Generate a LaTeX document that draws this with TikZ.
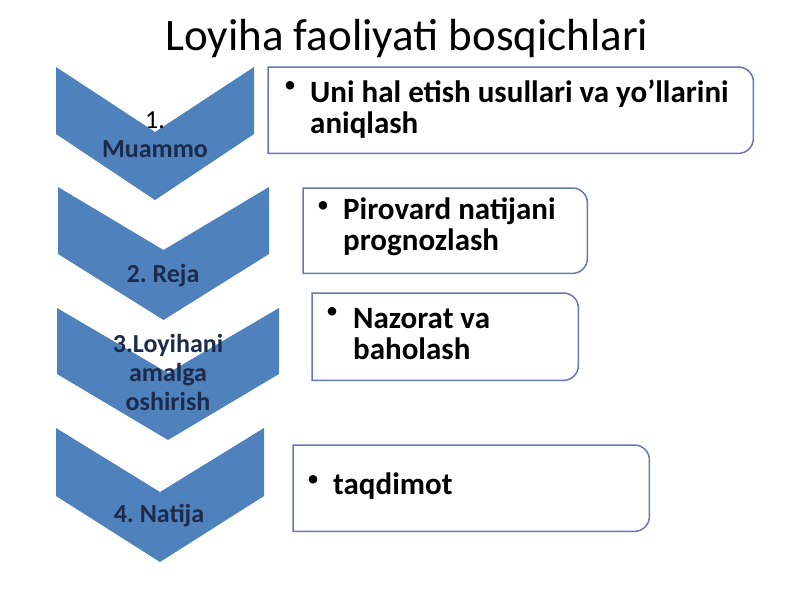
\documentclass[tikz,border=0pt]{standalone}
\usepackage{fontspec}
\setmainfont{Carlito}
\usepackage{tikz}
\usetikzlibrary{positioning}
\definecolor{ChevBlue}{HTML}{4F81BD}
\definecolor{ChevText}{HTML}{1C2B4B}
\definecolor{BoxLine}{HTML}{6A74B8}
\frenchspacing
\newcommand{\stageframe}[1]{\draw[frame] (#1.north west) -- ([xshift=-15pt]#1.north east) arc[start angle=90, end angle=0, radius=15pt] -- ([yshift=15pt]#1.south east) arc[start angle=0, end angle=-90, radius=15pt] -- (#1.south west) -- cycle;}

\begin{document}
\begin{tikzpicture}[x=1pt,y=-1pt]
\tikzset{chev/.style={fill=ChevBlue, draw=none}}
\tikzset{step label/.style={font=\fontsize{26}{29}\selectfont\bfseries, text=ChevText, align=center, inner sep=0pt}}
\tikzset{box text/.style={font=\fontsize{31}{31}\selectfont\bfseries, align=left, anchor=north west, inner sep=0pt}}
\tikzset{bul/.style={font=\fontsize{24}{24}\selectfont, inner sep=0pt}}
\tikzset{frame/.style={draw=BoxLine, line width=1.5pt}}
\tikzset{slot/.style={inner sep=0pt, anchor=north west}}
\useasboundingbox (0,0) rectangle (800,600);

\node[font=\fontsize{45}{50}\selectfont, anchor=base] (title) at (407,50) {Loyiha faoliyati bosqichlari};

% chevrons
\draw[chev] (56,67) -- (155,132) -- (254,67) -- (254,134) -- (155,200) -- (56,134) -- cycle;
\draw[chev] (58,187) -- (163.5,250) -- (269,187) -- (269,254) -- (163.5,320) -- (58,254) -- cycle;
\draw[chev] (57,308) -- (168,373) -- (279,308) -- (279,374) -- (168,440) -- (57,374) -- cycle;
\draw[chev] (56,428) -- (160,492) -- (264,428) -- (264,496) -- (160,562) -- (56,496) -- cycle;

\node[step label, anchor=north] (S1) at (155,112) {{\mdseries\color{black}1.}\\Muammo};
\node[step label, anchor=base] (S2) at (163,282) {2. Reja};
\node[step label, anchor=north] (S3) at (168,334) {3.Loyihani\\amalga\\oshirish};
\node[step label, anchor=base] (S4) at (159,522) {4. Natija};

% boxes
\node[slot, minimum width=485pt, minimum height=86pt] (B1) at (268,67) {};
\node[slot, minimum width=284pt, minimum height=85pt] (B2) at (303,188) {};
\node[slot, minimum width=266pt, minimum height=87pt] (B3) at (312,293) {};
\node[slot, minimum width=356pt, minimum height=86pt] (B4) at (293,445) {};
\stageframe{B1}
\stageframe{B2}
\stageframe{B3}
\stageframe{B4}

\node[bul] (D1) at (290,87) {\textbullet};
\node[bul] (D2) at (323,207) {\textbullet};
\node[bul] (D3) at (332,313) {\textbullet};
\node[bul] (D4) at (313,481) {\textbullet};

\node[box text] (T1) at (310,80) {Uni hal etish usullari va yo’llarini\\aniqlash};
\node[box text] (T2) at (343,197) {Pirovard natijani\\prognozlash};
\node[box text] (T3) at (353,308) {Nazorat va\\baholash};
\node[box text] (T4) at (333,473) {taqdimot};
\end{tikzpicture}
\end{document}
